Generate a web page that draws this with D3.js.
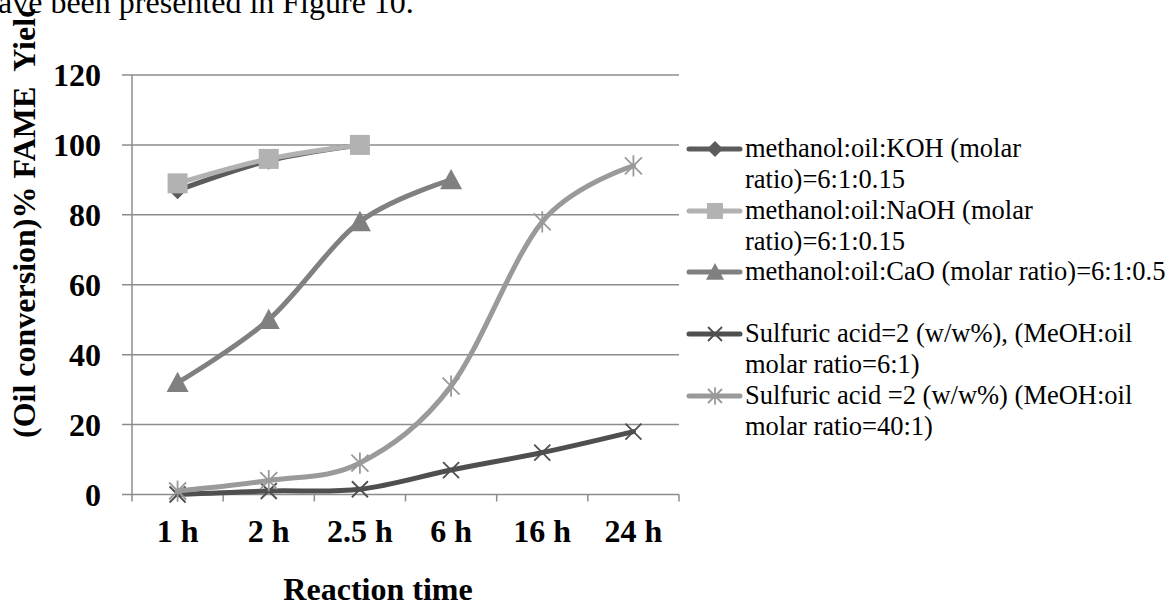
<!DOCTYPE html>
<html>
<head>
<meta charset="utf-8">
<script src="https://cdn.jsdelivr.net/npm/d3@7"></script>
<style>
  body { margin: 0; background: #fff; }
  svg { display: block; }
</style>
</head>
<body>
<div id="chart"></div>
<script>
// data
const categories = ["1 h", "2 h", "2.5 h", "6 h", "16 h", "24 h"];
const kohYield = [87, 95.5, 100, null, null, null];
const naohYield = [89, 96, 100, null, null, null];
const caoYield = [32, 50, 78, 90, null, null];
const acid6Yield = [0, 1, 1.5, 7, 12, 18];
const acid40Yield = [1, 4, 9, 31, 78, 94];
const yTicks = [0, 20, 40, 60, 80, 100, 120];

const seriesNames = [
  ["methanol:oil:KOH (molar", "ratio)=6:1:0.15"],
  ["methanol:oil:NaOH (molar", "ratio)=6:1:0.15"],
  ["methanol:oil:CaO (molar ratio)=6:1:0.5"],
  ["Sulfuric acid=2 (w/w%), (MeOH:oil", "molar ratio=6:1)"],
  ["Sulfuric acid =2 (w/w%) (MeOH:oil", "molar ratio=40:1)"]
];

const width = 1171, height = 606;
const plotLeft = 132, plotRight = 679, plotTop = 75, plotBottom = 494.5;
const serif = "'Liberation Serif', 'Times New Roman', serif";

// marker shapes
function diamond(p, r) { p.moveTo(0, -r); p.lineTo(r, 0); p.lineTo(0, r); p.lineTo(-r, 0); p.closePath(); }
function square(p, r) { p.rect(-r, -r, 2 * r, 2 * r); }
function triangle(p, r) { p.moveTo(0, -r); p.lineTo(r, r * 0.85); p.lineTo(-r, r * 0.85); p.closePath(); }
function cross(p, r) { p.moveTo(-r, -r); p.lineTo(r, r); p.moveTo(r, -r); p.lineTo(-r, r); }
function star(p, r) { cross(p, r); p.moveTo(0, -r * 1.25); p.lineTo(0, r * 1.25); }

const series = [
  { values: kohYield, color: "#5c5c5c", shape: diamond, size: 9, legSize: 8, filled: true },
  { values: naohYield, color: "#b2b2b2", shape: square, size: 10, legSize: 8, filled: true },
  { values: caoYield, color: "#808080", shape: triangle, size: 11, legSize: 9, filled: true },
  { values: acid6Yield, color: "#4f4f4f", shape: cross, size: 8, legSize: 7, filled: false },
  { values: acid40Yield, color: "#9a9a9a", shape: star, size: 8.5, legSize: 7, filled: false }
];

const markerPath = (shape, r) => { const p = d3.path(); shape(p, r); return p.toString(); };

const svg = d3.select("#chart").append("svg")
  .attr("width", width)
  .attr("height", height);

// the chart picture starts a little below the page edge, the y title is clipped there
svg.append("clipPath").attr("id", "chartClip")
  .append("rect").attr("x", 0).attr("y", 9).attr("width", width).attr("height", height);

// text cut off from the page above the chart
svg.append("text")
  .attr("x", -2).attr("y", 13)
  .attr("font-family", serif).attr("font-size", 32)
  .text("ave been presented in Figure 10.");

const x = d3.scaleBand().domain(categories).range([plotLeft, plotRight]).padding(0);
const y = d3.scaleLinear().domain([0, 120]).range([plotBottom, plotTop]);

// gridlines
svg.append("g")
  .selectAll("line")
  .data(yTicks)
  .enter().append("line")
  .attr("x1", plotLeft - 10).attr("x2", plotRight)
  .attr("y1", d => y(d)).attr("y2", d => y(d))
  .attr("stroke", "#8c8c8c").attr("stroke-width", 1.5);

// y axis line
svg.append("line")
  .attr("x1", plotLeft).attr("x2", plotLeft).attr("y1", plotTop).attr("y2", plotBottom)
  .attr("stroke", "#8c8c8c").attr("stroke-width", 1.5);

// x axis ticks at category boundaries
const bounds = categories.map(c => x(c)).concat([plotRight]);
svg.append("g")
  .selectAll("line")
  .data(bounds)
  .enter().append("line")
  .attr("x1", d => d).attr("x2", d => d)
  .attr("y1", plotBottom).attr("y2", plotBottom + 7)
  .attr("stroke", "#8c8c8c").attr("stroke-width", 1.5);

// y tick labels
svg.append("g")
  .selectAll("text")
  .data(yTicks)
  .enter().append("text")
  .attr("x", 101).attr("y", d => y(d) + 11)
  .attr("text-anchor", "end")
  .attr("font-family", serif).attr("font-size", 32).attr("font-weight", "bold")
  .text(d => d);

// x tick labels
svg.append("g")
  .selectAll("text")
  .data(categories)
  .enter().append("text")
  .attr("x", d => x(d) + x.bandwidth() / 2).attr("y", 542)
  .attr("text-anchor", "middle")
  .attr("font-family", serif).attr("font-size", 32).attr("font-weight", "bold")
  .text(d => d);

// axis titles
svg.append("text")
  .attr("x", 378).attr("y", 600)
  .attr("text-anchor", "middle")
  .attr("font-family", serif).attr("font-size", 32).attr("font-weight", "bold")
  .text("Reaction time");

svg.append("g").attr("clip-path", "url(#chartClip)")
  .append("text")
  .attr("transform", "translate(35,438) rotate(-90)")
  .attr("font-family", serif).attr("font-size", 32).attr("font-weight", "bold")
  .style("white-space", "pre")
  .text("(Oil conversion)% FAME  Yield");

// lines and markers
const line = d3.line()
  .defined(d => d != null)
  .x((d, i) => x(categories[i]) + x.bandwidth() / 2)
  .y(d => y(d))
  .curve(d3.curveCardinal.tension(0));

series.forEach(s => {
  const pts = s.values.map((v, i) => ({ v, i })).filter(d => d.v != null);
  svg.append("path")
    .attr("d", line(s.values))
    .attr("fill", "none")
    .attr("stroke", s.color)
    .attr("stroke-width", 5)
    .attr("stroke-linecap", "round");
  svg.append("g")
    .selectAll("path")
    .data(pts)
    .enter().append("path")
    .attr("transform", d => "translate(" + (x(categories[d.i]) + x.bandwidth() / 2) + "," + y(d.v) + ")")
    .attr("d", markerPath(s.shape, s.size))
    .attr("fill", s.filled ? s.color : "none")
    .attr("stroke", s.color)
    .attr("stroke-width", s.filled ? 0 : 1.8);
});

// legend
const rowY = [149, 211, 272, 334, 396];
const legend = svg.append("g")
  .selectAll("g")
  .data(series)
  .enter().append("g")
  .attr("transform", (d, i) => "translate(0," + rowY[i] + ")");

legend.append("line")
  .attr("x1", 689).attr("x2", 740)
  .attr("stroke", d => d.color).attr("stroke-width", 5)
  .attr("stroke-linecap", "round");

legend.append("path")
  .attr("transform", "translate(715,0)")
  .attr("d", d => markerPath(d.shape, d.legSize))
  .attr("fill", d => d.filled ? d.color : "none")
  .attr("stroke", d => d.color)
  .attr("stroke-width", d => d.filled ? 0 : 1.8);

legend.each(function (d, i) {
  const t = d3.select(this).append("text")
    .attr("font-family", serif).attr("font-size", 26.5);
  seriesNames[i].forEach((s, k) => {
    t.append("tspan").attr("x", 745).attr("y", 8 + k * 31).text(s);
  });
});
</script>
</body>
</html>
